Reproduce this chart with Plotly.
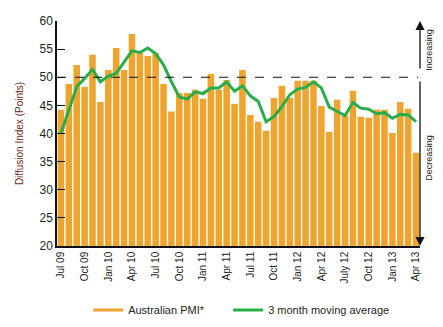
import plotly.graph_objects as go

# Monthly categories, July 2009 to April 2013
months = [
    "Jul 09", "Aug 09", "Sep 09", "Oct 09", "Nov 09", "Dec 09",
    "Jan 10", "Feb 10", "Mar 10", "Apr 10", "May 10", "Jun 10",
    "Jul 10", "Aug 10", "Sep 10", "Oct 10", "Nov 10", "Dec 10",
    "Jan 11", "Feb 11", "Mar 11", "Apr 11", "May 11", "Jun 11",
    "Jul 11", "Aug 11", "Sep 11", "Oct 11", "Nov 11", "Dec 11",
    "Jan 12", "Feb 12", "Mar 12", "Apr 12", "May 12", "Jun 12",
    "Jul 12", "Aug 12", "Sep 12", "Oct 12", "Nov 12", "Dec 12",
    "Jan 13", "Feb 13", "Mar 13", "Apr 13",
]

# Australian PMI (diffusion index, points)
pmi = [
    44.2, 48.8, 52.2, 48.3, 54.0, 45.6,
    51.3, 55.2, 51.3, 57.7, 54.4, 53.8,
    54.3, 48.8, 43.9, 47.2, 47.2, 47.8,
    46.2, 50.6, 47.8, 49.5, 45.3, 51.3,
    43.3, 42.1, 40.5, 46.3, 48.5, 46.3,
    49.4, 49.4, 49.4, 44.9, 40.3, 46.0,
    43.2, 47.6, 43.0, 42.8, 44.2, 44.2,
    40.1, 45.6, 44.4, 36.6,
]

# 3 month moving average
pmi_3ma = [
    40.0, 44.2, 48.3, 49.8, 51.4, 49.2,
    50.2, 50.7, 52.6, 54.7, 54.4, 55.2,
    54.2, 52.2, 49.2, 46.5, 46.1, 47.4,
    47.1, 48.1, 48.1, 49.2, 47.5, 48.5,
    46.7, 45.7, 42.1, 43.0, 44.8, 46.9,
    47.9, 48.2, 49.2, 48.1, 44.7, 43.9,
    43.2, 45.5, 44.5, 44.3, 43.5, 43.7,
    42.7, 43.4, 43.3, 42.1,
]

# Quarterly axis labels
tick_months = ["Jul 09", "Oct 09", "Jan 10", "Apr 10", "Jul 10", "Oct 10",
               "Jan 11", "Apr 11", "Jul 11", "Oct 11", "Jan 12", "Apr 12",
               "Jul 12", "Oct 12", "Jan 13", "Apr 13"]
tick_text = ["Jul 09", "Oct 09", "Jan 10", "Apr 10", "Jul 10", "Oct 10",
             "Jan 11", "Apr 11", "Jul 11", "Oct 11", "Jan 12", "Apr 12",
             "July 12", "Oct 12", "Jan 13", "Apr 13"]

BAR = "#F0A430"
LINE = "#27AE4A"
FONT = "Liberation Sans, Arial, sans-serif"
TXT = "#231f20"

fig = go.Figure()
fig.add_trace(go.Bar(
    x=months, y=pmi, name="Australian PMI*", showlegend=False,
    marker=dict(color=BAR, line=dict(width=0)),
))
# Legend key for the bars, drawn as a short line
fig.add_trace(go.Scatter(
    x=[None], y=[None], name="Australian PMI*", mode="lines",
    line=dict(color=BAR, width=3), legend="legend",
))
fig.add_trace(go.Scatter(
    x=months, y=pmi_3ma, name="3 month moving average",
    mode="lines", line=dict(color=LINE, width=3), legend="legend2",
))

# 50-point threshold
fig.add_shape(type="line", xref="paper", yref="y", x0=0, x1=0.995, y0=50, y1=50,
              line=dict(color="#111111", width=1.2, dash="dash"), layer="above")

# Direction arrows on the right-hand side
arrow = dict(xref="x domain", yref="y", axref="x domain", ayref="y", text="",
             showarrow=True, arrowhead=2, arrowsize=1.4, arrowwidth=1.3,
             arrowcolor="#111111")
fig.add_annotation(x=1.0, y=60, ax=1.0, ay=51.3, **arrow)
fig.add_annotation(x=1.0, y=20, ax=1.0, ay=49.5, **arrow)
label = dict(xref="paper", yref="y", showarrow=False, textangle=-90,
             xanchor="left", xshift=2, font=dict(family=FONT, size=9, color=TXT))
fig.add_annotation(x=1.0, y=54.9, text="Increasing", **label)
fig.add_annotation(x=1.0, y=35.7, text="Decreasing", **label)

legend_style = dict(
    orientation="h", xref="container", yref="container",
    xanchor="left", yanchor="middle", y=0.052,
    font=dict(family=FONT, size=11, color=TXT),
    itemwidth=30, bgcolor="rgba(0,0,0,0)",
)

fig.update_layout(
    width=443, height=327,
    margin=dict(l=57, r=23, t=21, b=81),
    paper_bgcolor="white", plot_bgcolor="white",
    bargap=0.17,
    font=dict(family=FONT, color=TXT),
    showlegend=True,
    legend=dict(x=0.199, **legend_style),
    legend2=dict(x=0.515, **legend_style),
)
fig.update_xaxes(
    type="category", categoryorder="array", categoryarray=months,
    range=[-0.5, len(months) - 0.5],
    tickmode="array", tickvals=tick_months, ticktext=tick_text,
    tickangle=-90, tickfont=dict(size=10, color=TXT),
    showline=True, linecolor="#111111", linewidth=1.5,
    ticks="", showgrid=False, zeroline=False, automargin=False,
)
fig.update_yaxes(
    range=[20, 60], tickvals=[20, 25, 30, 35, 40, 45, 50, 55, 60],
    ticks="inside", ticklen=8, tickwidth=1.2, tickcolor="#111111",
    tickfont=dict(size=12, color=TXT),
    showline=True, linecolor="#111111", linewidth=1.5,
    showgrid=False, zeroline=False, automargin=False,
    title=dict(text="Diffusion Index (Points)", standoff=14,
               font=dict(size=10, color="#6b2a1f")),
)

fig.write_html("out.html")
